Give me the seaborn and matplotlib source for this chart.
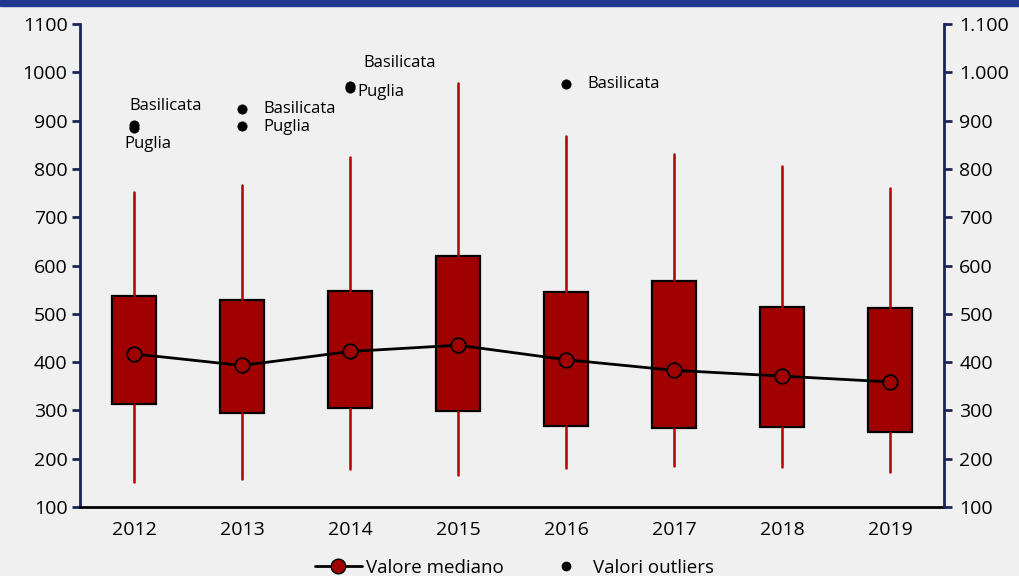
import numpy as np
import pandas as pd
import matplotlib
matplotlib.use("Agg")
import matplotlib.pyplot as plt
import seaborn as sns
from matplotlib.lines import Line2D
from matplotlib.patches import Rectangle
from matplotlib.ticker import FuncFormatter

# data
years = ["2012", "2013", "2014", "2015", "2016", "2017", "2018", "2019"]
q1 = [313, 295, 305, 298, 268, 263, 266, 256]
q3 = [537, 528, 548, 619, 546, 568, 514, 511]
whisk_lo = [152, 157, 178, 167, 180, 185, 183, 172]
whisk_hi = [752, 767, 824, 977, 868, 830, 807, 760]
medians = [417, 393, 422, 435, 405, 383, 371, 359]

out_year = ["2012", "2012", "2013", "2013", "2014", "2014", "2016"]
out_region = ["Basilicata", "Puglia", "Basilicata", "Puglia", "Basilicata", "Puglia", "Basilicata"]
out_value = [890, 885, 925, 888, 972, 968, 975]

# label placement (offset in category units, y value)
lab_dx = [-0.04, -0.085, 0.195, 0.195, 0.12, 0.065, 0.2]
lab_y = [930, 852, 925, 887, 1019, 960, 975]

RED = "#a00000"
BG = "#f0f0f0"
NAVY = "#1c2557"

sns.set_style("white")
plt.rcParams["font.family"] = ["Open Sans", "DejaVu Sans"]
plt.rcParams["font.size"] = 14
plt.rcParams["text.color"] = "black"
plt.rcParams["xtick.labelcolor"] = "black"
plt.rcParams["ytick.labelcolor"] = "black"

fig = plt.figure(figsize=(10.19, 5.76), dpi=100, facecolor=BG)
ax = fig.add_axes([0.0785, 0.1198, 0.8479, 0.8385], facecolor=BG)

# top band
fig.patches.append(Rectangle((0, 1 - 6 / 576), 1, 6 / 576, transform=fig.transFigure,
                             color="#213a8f", zorder=10))

pos = np.arange(len(years))
stats = []
for i in range(len(years)):
    stats.append({"med": medians[i], "q1": q1[i], "q3": q3[i],
                  "whislo": whisk_lo[i], "whishi": whisk_hi[i], "fliers": []})
ax.bxp(stats, positions=pos, widths=0.41, patch_artist=True, showcaps=False,
       boxprops=dict(facecolor=RED, edgecolor="black", linewidth=1.6),
       whiskerprops=dict(color="#b00000", linewidth=1.8),
       medianprops=dict(linewidth=0), zorder=2)

med_df = pd.DataFrame({"x": pos, "mediano": medians})
sns.lineplot(data=med_df, x="x", y="mediano", ax=ax, color="black", linewidth=2,
             marker="o", markersize=10.5, markerfacecolor=RED, markeredgecolor="black",
             markeredgewidth=1.3, zorder=4)

out_df = pd.DataFrame({"x": [years.index(y) for y in out_year], "valore": out_value})
sns.scatterplot(data=out_df, x="x", y="valore", ax=ax, color="black", s=45,
                edgecolor="black", linewidth=0.5, zorder=5)

for i in range(len(out_region)):
    ax.text(years.index(out_year[i]) + lab_dx[i], lab_y[i], out_region[i],
            fontsize=12, ha="left", va="center", color="black")

ax.set_xlim(-0.5, len(years) - 0.5)
ax.set_ylim(100, 1100)
ax.set_yticks(np.arange(100, 1101, 100))
ax.set_xticks(pos)
ax.set_xticklabels(years)
ax.set_xticks(np.arange(-0.5, len(years), 1), minor=True)
ax.set_xlabel("")
ax.set_ylabel("")

ax.tick_params(axis="x", which="major", length=0, pad=10, labelsize=14)
ax.tick_params(axis="x", which="minor", length=6, width=2, color="black", direction="out")
ax.tick_params(axis="y", length=6, width=2, color=NAVY, labelsize=14, direction="out", pad=3)

ax.spines["top"].set_visible(False)
ax.spines["left"].set_color(NAVY)
ax.spines["left"].set_linewidth(2)
ax.spines["right"].set_visible(False)
ax.spines["bottom"].set_color("black")
ax.spines["bottom"].set_linewidth(2)

ax2 = ax.twinx()
ax2.set_ylim(100, 1100)
ax2.set_yticks(np.arange(100, 1101, 100))
ax2.yaxis.set_major_formatter(FuncFormatter(lambda v, p: f"{int(v):,}".replace(",", ".")))
ax2.tick_params(axis="y", length=6, width=2, color=NAVY, labelsize=14, direction="out", pad=5)
for s in ["top", "left", "bottom"]:
    ax2.spines[s].set_visible(False)
ax2.spines["right"].set_color(NAVY)
ax2.spines["right"].set_linewidth(2)

handles = [
    Line2D([0], [0], color="black", linewidth=2, marker="o", markersize=10.5,
           markerfacecolor=RED, markeredgecolor="black"),
    Line2D([0], [0], color="none", marker="o", markersize=6,
           markerfacecolor="black", markeredgecolor="black"),
]
fig.legend(handles, ["Valore mediano", "Valori outliers"], loc="center",
           bbox_to_anchor=(0.505, 0.014), ncol=2, frameon=False, fontsize=13.5,
           handlelength=2.5, handletextpad=0.2, columnspacing=2.1)

fig.savefig("out.png", dpi=100, facecolor=BG)
